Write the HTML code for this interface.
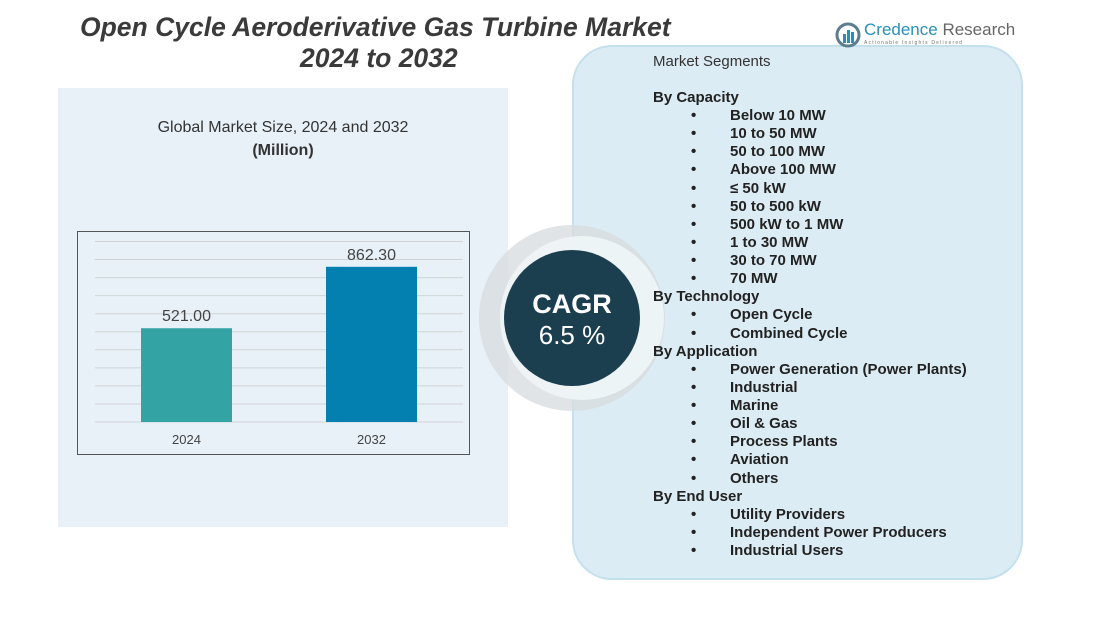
<!DOCTYPE html>
<html><head><meta charset="utf-8"><style>
body{margin:0;width:1097px;height:632px;overflow:hidden;background:#fff;font-family:"Liberation Sans",sans-serif;position:relative}
.abs{position:absolute}
#list div{position:absolute;font-size:15px;font-weight:bold;color:#222;white-space:nowrap;line-height:18px}
</style></head><body>
<div class="abs" style="left:58px;top:88px;width:450px;height:439px;background:#e8f1f8"></div>
<div class="abs" style="left:572px;top:45px;width:447px;height:531px;background:#dcecf4;border:2px solid #c4e0ec;border-radius:40px"></div>
<div class="abs" style="left:80px;top:12px;white-space:nowrap;font-size:26.5px;font-weight:bold;font-style:italic;color:#3a3a3a;line-height:31px">Open Cycle Aeroderivative Gas Turbine Market</div>
<div class="abs" style="left:300px;top:43px;white-space:nowrap;font-size:26.5px;font-weight:bold;font-style:italic;color:#3a3a3a;line-height:31px">2024 to 2032</div>
<div class="abs" style="left:835px;top:20px;width:170px;height:30px">
<svg width="26" height="26" style="position:absolute;left:0;top:2px"><circle cx="13" cy="13" r="11" fill="none" stroke="#5b7d8e" stroke-width="3"/><rect x="8" y="12" width="3" height="9" fill="#2a8fb8"/><rect x="12" y="8" width="3" height="13" fill="#2a8fb8"/><rect x="16" y="10" width="3" height="11" fill="#2a8fb8"/></svg>
<span style="position:absolute;left:29px;top:0;font-size:17px;color:#2a8fb8;white-space:nowrap">Credence <span style="color:#666">Research</span></span>
<span style="position:absolute;left:29px;top:20px;font-size:5px;color:#777;letter-spacing:1.2px;white-space:nowrap">Actionable Insights Delivered</span></div>
<div class="abs" style="left:58px;top:116px;width:450px;text-align:center;font-size:16px;color:#333;line-height:23px">Global Market Size, 2024 and 2032<br><b>(Million)</b></div>
<svg class="abs" style="left:0;top:0" width="1097" height="632">
<rect x="77.5" y="231.5" width="392" height="223" fill="none" stroke="#555" stroke-width="1"/>
<g id="grid"></g><g id="bars"></g>
<circle cx="572" cy="318" r="93" fill="#d8dde0" opacity="0.8"/>
<circle cx="582" cy="318" r="82" fill="#eef4f7" opacity="0.95"/>
<circle cx="572" cy="318" r="68" fill="#1c3f4f"/>
<text x="572" y="313" text-anchor="middle" font-size="27" font-weight="bold" fill="#fff" font-family="Liberation Sans">CAGR</text>
<text x="572" y="344" text-anchor="middle" font-size="26" fill="#fff" font-family="Liberation Sans">6.5 %</text>
</svg>
<div class="abs" style="left:653px;top:53px;font-size:15px;color:#333">Market Segments</div>
<div id="list"></div>
<script>
const categories=["2024","2032"];
const values=[521.00,862.30];
const labels=["521.00","862.30"];
const colors=["#33a3a3","#0480b0"];
const base=422, scale=0.18;
const y=v=>base-v*scale;
const svgNS="http://www.w3.org/2000/svg";
const grid=document.getElementById('grid');
for(let i=0;i<11;i++){const l=document.createElementNS(svgNS,'line');const yy=base-i*18.05;
l.setAttribute('x1',95);l.setAttribute('x2',463);l.setAttribute('y1',yy);l.setAttribute('y2',yy);l.setAttribute('stroke','#d0d4d6');


grid.appendChild(l);}
const bars=document.getElementById('bars');
const xs=[141,326];
categories.forEach((c,i)=>{
const r=document.createElementNS(svgNS,'rect');
r.setAttribute('x',xs[i]);r.setAttribute('width',91);r.setAttribute('y',y(values[i]));r.setAttribute('height',base-y(values[i]));r.setAttribute('fill',colors[i]);


bars.appendChild(r);
const t=document.createElementNS(svgNS,'text');t.setAttribute('x',xs[i]+45.5);t.setAttribute('y',y(values[i])-7);t.setAttribute('text-anchor','middle');t.setAttribute('font-size','16');t.setAttribute('fill','#444');t.setAttribute('font-family','Liberation Sans');t.textContent=labels[i];


bars.appendChild(t);
const a=document.createElementNS(svgNS,'text');a.setAttribute('x',xs[i]+45.5);a.setAttribute('y',444);a.setAttribute('text-anchor','middle');a.setAttribute('font-size','13');a.setAttribute('fill','#444');a.setAttribute('font-family','Liberation Sans');a.textContent=c;


bars.appendChild(a);
});
const items=[["h","By Capacity"],["i","Below 10 MW"],["i","10 to 50 MW"],["i","50 to 100 MW"],["i","Above 100 MW"],["i","≤ 50 kW"],["i","50 to 500 kW"],["i","500 kW to 1 MW"],["i","1 to 30 MW"],["i","30 to 70 MW"],["i","70 MW"],["h","By Technology"],["i","Open Cycle"],["i","Combined Cycle"],["h","By Application"],["i","Power Generation (Power Plants)"],["i","Industrial"],["i","Marine"],["i","Oil & Gas"],["i","Process Plants"],["i","Aviation"],["i","Others"],["h","By End User"],["i","Utility Providers"],["i","Independent Power Producers"],["i","Industrial Users"]];
const list=document.getElementById('list');
items.forEach((it,k)=>{const top=89+k*18.12;
if(it[0]==='i'){const b=document.createElement('div');b.style.left='691px';b.style.top=top+'px';b.textContent='•';


list.appendChild(b);}
const d=document.createElement('div');d.style.left=(it[0]==='h'?653:730)+'px';d.style.top=top+'px';d.textContent=it[1];


list.appendChild(d);});
</script>
</body></html>
